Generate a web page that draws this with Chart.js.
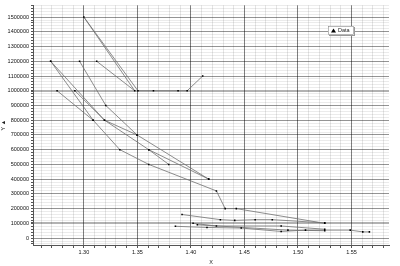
<!DOCTYPE html>
<html>
<head>
<meta charset="utf-8">
<script src="https://cdn.jsdelivr.net/npm/chart.js@4.4.0/dist/chart.umd.min.js"></script>
<style>
	html, body { margin: 0; padding: 0; background: #fff; }
	#wrap { width: 400px; height: 266px; }
</style>
</head>
<body>
<div id="wrap"><canvas id="chart"></canvas></div>
<script>
'use strict';

// paths of the series, each one drawn as a separate polyline
const path1X = [1.312, 1.3475, 1.300, 1.3505, 1.365, 1.388, 1.3965, 1.411];
const path1Y = [1200000, 1000000, 1500000, 1000000, 1000000, 1000000, 1000000, 1100000];

const path2X = [1.296, 1.3205, 1.3497, 1.4166];
const path2Y = [1200000, 900000, 700000, 400000];

const path3X = [1.269, 1.3087, 1.3336, 1.3606, 1.4238, 1.432, 1.4424, 1.525];
const path3Y = [1200000, 800000, 600000, 500000, 320000, 200000, 200000, 100000];

const path4X = [1.269, 1.3193, 1.3606, 1.4166];
const path4Y = [1200000, 800000, 600000, 400000];

const path5X = [1.275, 1.3087];
const path5Y = [1000000, 800000];

const path6X = [1.2916, 1.3193, 1.3497];
const path6Y = [1000000, 800000, 700000];

const path7X = [1.3606, 1.3793];
const path7Y = [600000, 500000];

const path8X = [1.3917, 1.4275, 1.4409, 1.460, 1.476, 1.525];
const path8Y = [160000, 125000, 120000, 125000, 125000, 103000];

const path9X = [1.402, 1.4238, 1.4843, 1.525];
const path9Y = [100000, 82000, 82000, 60000];

const path10X = [1.3855, 1.415, 1.447, 1.4843, 1.507, 1.5488, 1.5605, 1.5667];
const path10Y = [80000, 72000, 68000, 45000, 54000, 54000, 42000, 42000];

const path11X = [1.406, 1.4906, 1.525];
const path11Y = [90000, 54000, 50000];

const paths = [
	[path1X, path1Y], [path2X, path2Y], [path3X, path3Y], [path4X, path4Y],
	[path5X, path5Y], [path6X, path6Y], [path7X, path7Y], [path8X, path8Y],
	[path9X, path9Y], [path10X, path10Y], [path11X, path11Y]
];

const seriesName = 'Data';
const xTitle = 'X';
const yTitle = 'Y \u25B2';

function buildPoints() {
	let pts = [];
	for (const p of paths) {
		for (let i = 0; i < p[0].length; i++) {
			pts.push({ x: p[0][i], y: p[1][i] });
		}
		pts.push({ x: null, y: null });
	}
	return pts;
}

function isMajor(v, step) {
	return Math.abs(v / step - Math.round(v / step)) < 1e-6;
}

const legendBox = {
	id: 'legendBox',
	afterDraw(chart) {
		const ctx = chart.ctx;
		const x = 328, y = 26, w = 26, h = 9;
		ctx.save();
		ctx.fillStyle = '#999';
		ctx.fillRect(x + 1, y + 1, w, h);
		ctx.fillStyle = '#fff';
		ctx.fillRect(x, y, w, h);
		ctx.strokeStyle = '#888';
		ctx.lineWidth = 0.6;
		ctx.strokeRect(x + 0.5, y + 0.5, w - 1, h - 1);
		ctx.fillStyle = '#000';
		ctx.beginPath();
		ctx.moveTo(x + 3, y + 6.5);
		ctx.lineTo(x + 5.5, y + 2.5);
		ctx.lineTo(x + 8, y + 6.5);
		ctx.closePath();
		ctx.fill();
		ctx.font = '5.5px "Liberation Sans", Arial, sans-serif';
		ctx.textBaseline = 'middle';
		ctx.fillStyle = '#222';
		ctx.fillText(seriesName, x + 10, y + 4.8);
		ctx.restore();
	}
};

const ctx = document.getElementById('chart');

new Chart(ctx, {
	type: 'scatter',
	data: {
		datasets: [{
			label: seriesName,
			data: buildPoints(),
			showLine: true,
			spanGaps: false,
			borderColor: '#707070',
			borderWidth: 0.8,
			pointStyle: 'rect',
			pointRadius: 1.1,
			pointBackgroundColor: '#000',
			pointBorderColor: '#000',
			pointBorderWidth: 0
		}]
	},
	options: {
		responsive: true,
		maintainAspectRatio: false,
		animation: false,
		layout: { padding: { top: 2, right: 11, left: 0, bottom: 0 } },
		plugins: {
			legend: { display: false },
			tooltip: { enabled: false }
		},
		scales: {
			x: {
				type: 'linear',
				min: 1.2525,
				max: 1.585,
				afterBuildTicks: function (scale) {
					let t = [];
					for (let v = 126; v <= 158; v++) t.push({ value: v / 100 });
					scale.ticks = t;
				},
				afterFit: function (scale) { scale.height = 21; },
				ticks: {
					autoSkip: false,
					maxRotation: 0,
					padding: 1,
					color: '#111',
					font: { size: 5.5, family: '"Liberation Sans", Arial, sans-serif' },
					callback: function (v) { return isMajor(v, 0.05) ? v.toFixed(2) : ''; }
				},
				grid: {
					color: function (c) { return c.tick && isMajor(c.tick.value, 0.05) ? 'rgba(0,0,0,0.5)' : 'rgba(0,0,0,0.1)'; },
					tickColor: '#555',
					tickLength: 3,
					lineWidth: 1
				},
				border: { color: '#555', width: 1 },
				title: {
					display: true,
					text: xTitle,
					color: '#222',
					padding: { top: -3, bottom: 0 },
					font: { size: 5.5, family: '"Liberation Sans", Arial, sans-serif' }
				}
			},
			y: {
				type: 'linear',
				min: -47000,
				max: 1580000,
				afterBuildTicks: function (scale) {
					let t = [];
					for (let v = -40000; v <= 1580000; v += 20000) t.push({ value: v });
					scale.ticks = t;
				},
				afterFit: function (scale) { scale.width = 33; },
				ticks: {
					autoSkip: false,
					padding: 2,
					color: '#111',
					font: { size: 5.5, family: '"Liberation Sans", Arial, sans-serif' },
					callback: function (v) { return isMajor(v, 100000) ? String(v) : ''; }
				},
				grid: {
					color: function (c) {
						if (!c.tick) return 'rgba(0,0,0,0.1)';
						const v = c.tick.value;
						if (v === 1000000 || v === 100000) return 'rgba(0,0,0,0.3)';
						return isMajor(v, 100000) ? 'rgba(0,0,0,0.42)' : 'rgba(0,0,0,0.08)';
					},
					lineWidth: function (c) {
						const v = c.tick ? c.tick.value : 0;
						return (v === 1000000 || v === 100000) ? 2 : 1;
					},
					tickColor: '#555',
					tickLength: 2
				},
				border: { color: '#555', width: 1 },
				title: {
					display: true,
					text: yTitle,
					color: '#222',
					padding: 0,
					font: { size: 5.5, family: '"Liberation Sans", Arial, sans-serif' }
				}
			}
		}
	},
	plugins: [legendBox]
});
</script>
</body>
</html>
